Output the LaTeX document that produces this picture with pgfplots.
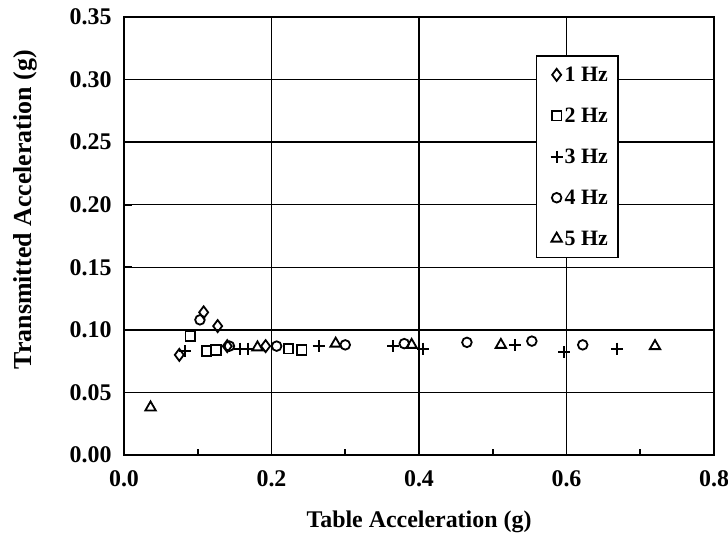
\documentclass[border=0pt]{standalone}
\usepackage{fontspec}
\setmainfont{Liberation Serif}
\usepackage{pgfplots}
\pgfplotsset{compat=1.18}
\newcommand{\tfont}{\bfseries\fontsize{24}{28}\selectfont}
\newcommand{\lfont}{\bfseries\fontsize{22}{26}\selectfont}
\begin{document}
\begin{tikzpicture}[x=1bp,y=1bp]
\begin{axis}[
  at={(0,0)}, anchor=south west,
  width=590bp, height=438bp, scale only axis,
  xmin=0, xmax=0.8, ymin=0, ymax=0.35,
  xtick={0,0.2,0.4,0.6,0.8},
  minor xtick={0.1,0.3,0.5,0.7},
  ytick={0,0.05,0.10,0.15,0.20,0.25,0.30,0.35},
  xtick pos=left, ytick pos=left,
  tick align=inside,
  major tick length=8bp, minor tick length=6bp,
  tick style={black, line width=1.6bp},
  grid=major,
  major grid style={black, line width=1.3bp},
  axis line style={black, line width=2.6bp},
  /pgf/number format/assume math mode=true,
  xticklabel style={font=\tfont, /pgf/number format/.cd, fixed, fixed zerofill, precision=1},
  yticklabel style={font=\tfont, /pgf/number format/.cd, fixed, fixed zerofill, precision=2},
  xticklabel shift=12bp,
  yticklabel shift=9bp,
  xlabel={Table Acceleration (g)},
  ylabel={Transmitted Acceleration (g)},
  xlabel style={font=\tfont, at={(axis description cs:0.5,-0.153)}, anchor=center},
  ylabel style={font=\bfseries\fontsize{26}{30}\selectfont, at={(axis description cs:-0.168,0.56)}, anchor=center, rotate=0},
  legend style={at={(rel axis cs:0.698,0.913)}, anchor=north west, draw=black, line width=1.5bp,
    fill=white, font=\lfont, row sep=21bp, inner xsep=8bp, inner ysep=9bp,
    /tikz/every even column/.append style={column sep=0bp}},
  legend cell align=left,
  legend image code/.code={\path (0cm,0cm) (0.45cm,0cm); \draw[#1] plot coordinates {(0.4cm,0cm)};},
]
\addplot[only marks, black, mark=diamond, mark size=6bp, mark options={line width=1.8bp, fill=none}] coordinates {
 (0.075,0.080) (0.108,0.114) (0.127,0.103) (0.140,0.087) (0.192,0.087)};
\addlegendentry{1 Hz}
\addplot[only marks, black, mark=square, mark size=4.8bp, mark options={line width=1.8bp, fill=none}] coordinates {
 (0.090,0.095) (0.112,0.083) (0.125,0.084) (0.223,0.085) (0.241,0.084)};
\addlegendentry{2 Hz}
\addplot[only marks, black, mark=+, mark size=6bp, mark options={line width=2bp}] coordinates {
 (0.083,0.083) (0.157,0.085) (0.168,0.085) (0.264,0.087) (0.365,0.087) (0.406,0.085) (0.530,0.088) (0.597,0.082) (0.669,0.085)};
\addlegendentry{3 Hz}
\addplot[only marks, black, mark=o, mark size=4.8bp, mark options={line width=1.8bp, fill=none}] coordinates {
 (0.103,0.108) (0.143,0.087) (0.207,0.087) (0.300,0.088) (0.380,0.089) (0.465,0.090) (0.553,0.091) (0.622,0.088)};
\addlegendentry{4 Hz}
\addplot[only marks, black, mark=triangle, mark size=6bp, mark options={line width=1.8bp, fill=none}] coordinates {
 (0.036,0.038) (0.181,0.086) (0.287,0.089) (0.390,0.088) (0.511,0.088) (0.720,0.087)};
\addlegendentry{5 Hz}
\end{axis}
\pgfresetboundingbox
\path (-124,-90) rectangle (604,455);
\end{tikzpicture}
\end{document}
